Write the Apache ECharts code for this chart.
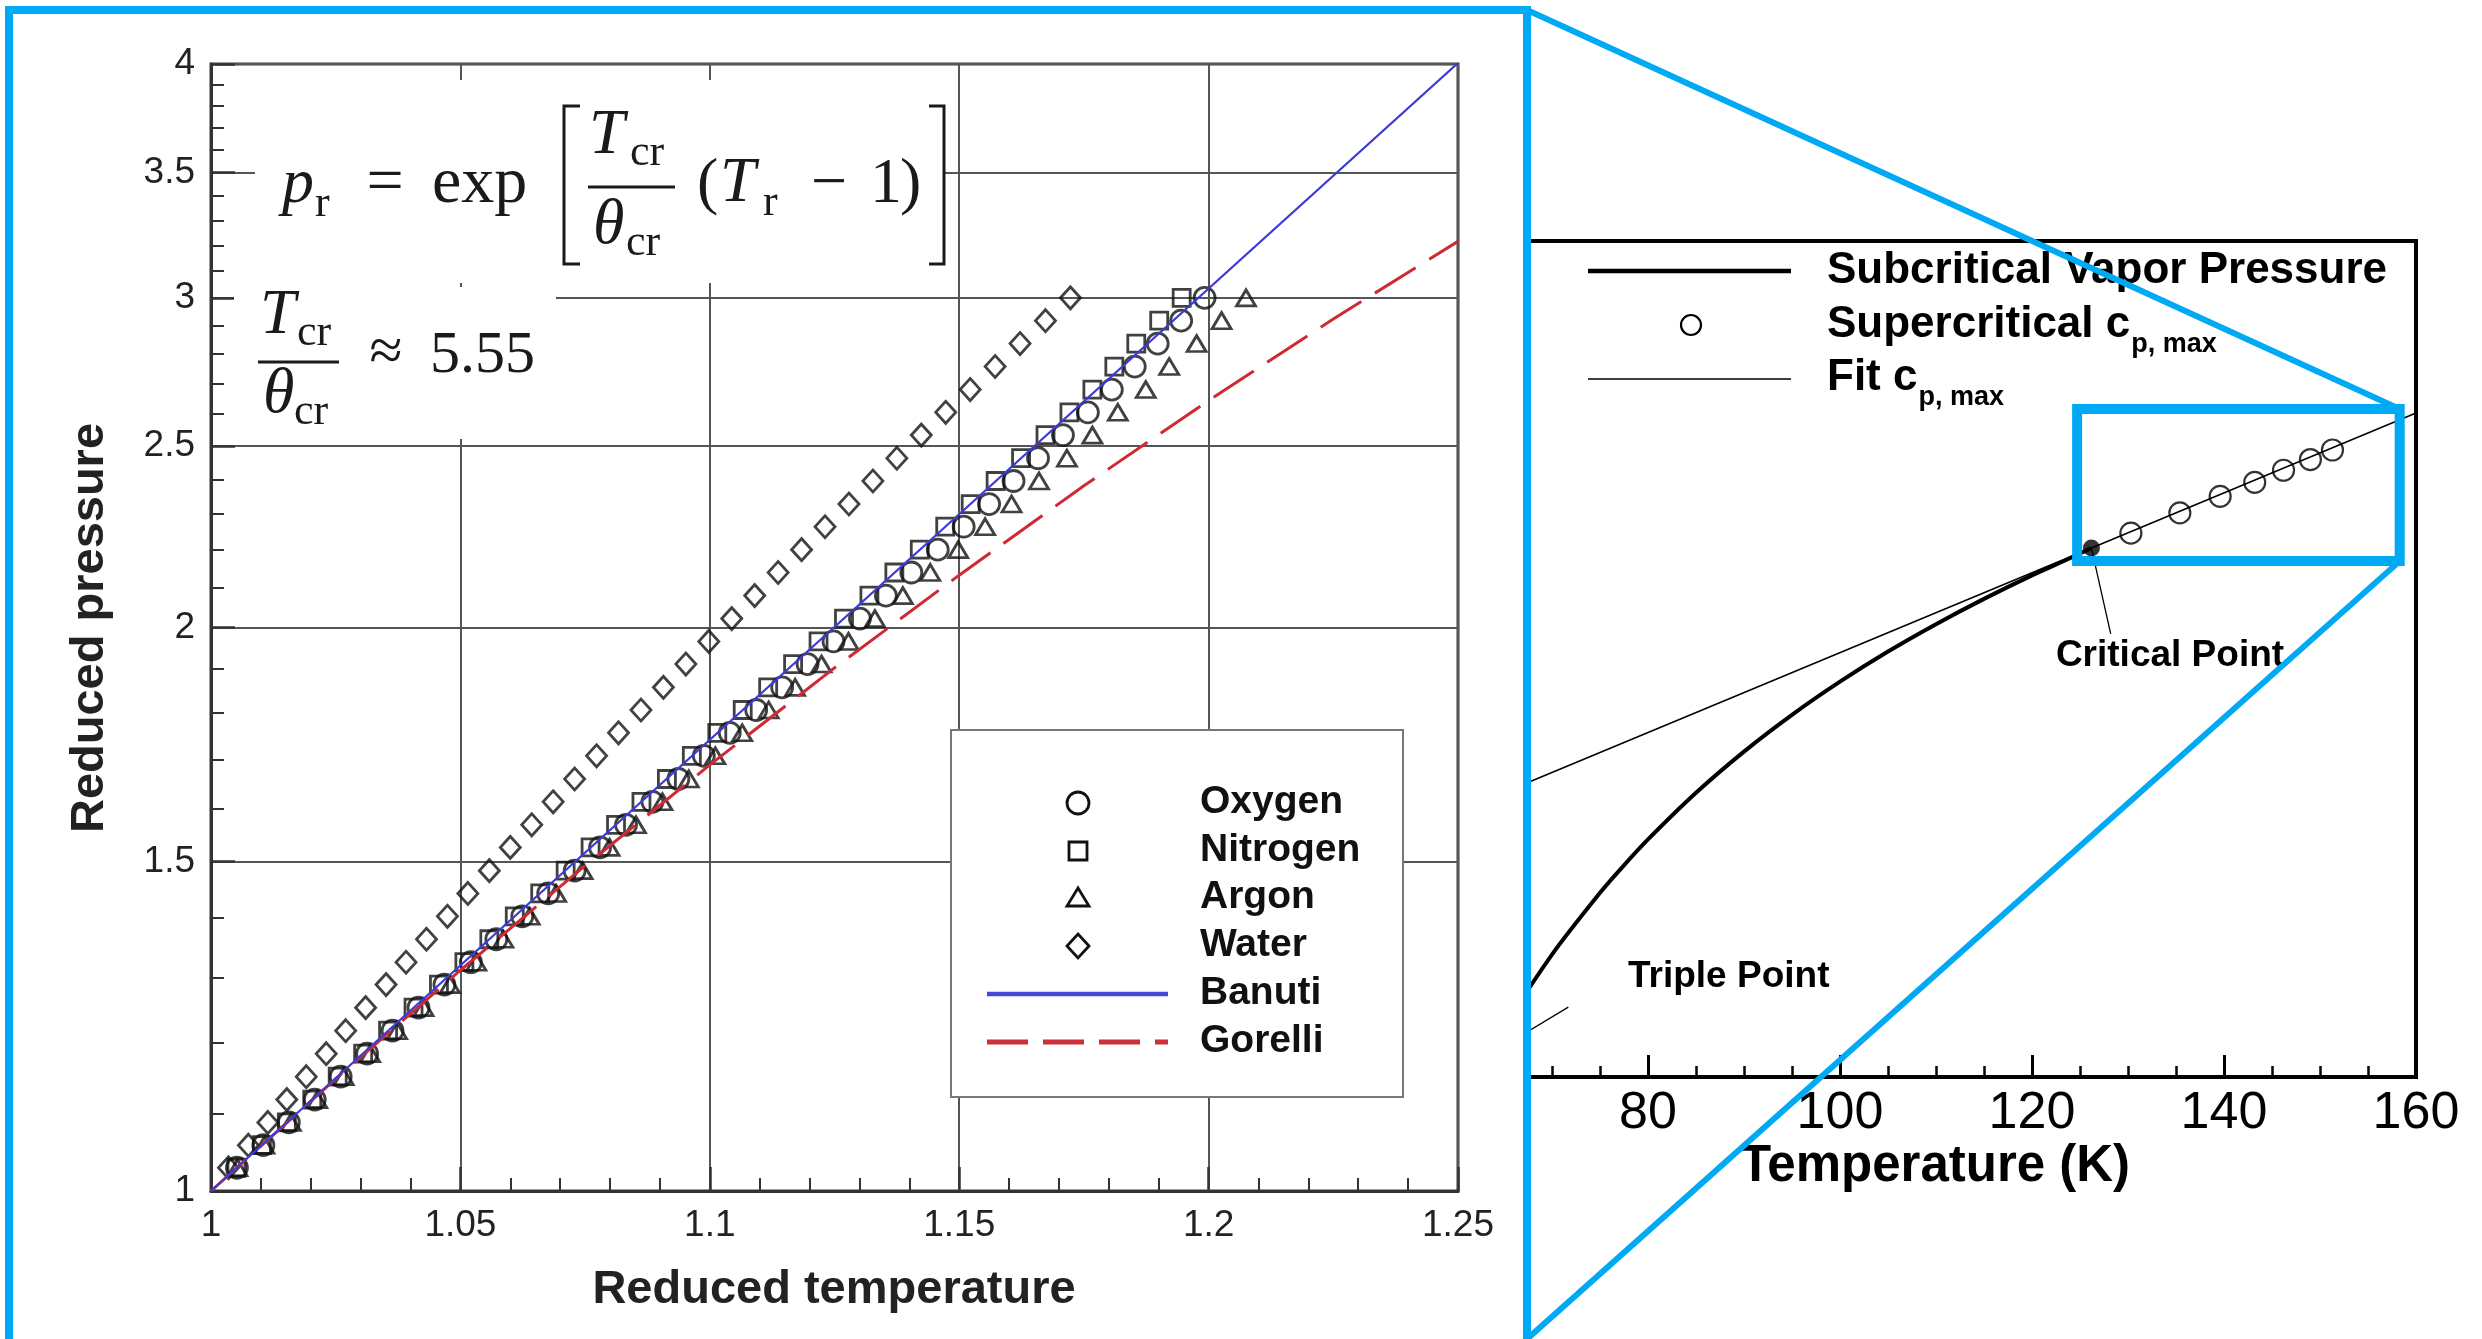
<!DOCTYPE html>
<html>
<head>
<meta charset="utf-8">
<script src="https://cdn.jsdelivr.net/npm/echarts@6/dist/echarts.min.js"></script>
<style>
  html, body { margin: 0; padding: 0; background: #ffffff; }
  #main { width: 2482px; height: 1339px; }
</style>
</head>
<body>
<div id="main"></div>
<script>
// ---------------- Left panel: reduced Widom-line data ----------------
// Reduced pressure levels shared by all four fluids
const pReduced = [1.029, 1.058, 1.088, 1.119, 1.151, 1.184, 1.218, 1.253, 1.289, 1.325,
                  1.363, 1.402, 1.442, 1.483, 1.526, 1.569, 1.614, 1.660, 1.708, 1.757,
                  1.807, 1.858, 1.912, 1.966, 2.022, 2.080, 2.140, 2.201, 2.264, 2.328,
                  2.395, 2.463, 2.534, 2.606, 2.680, 2.757, 2.836, 2.917, 3.000];
// Reduced temperature of the Widom line at each pressure level
const tOxygen   = [1.0052, 1.0105, 1.0156, 1.0208, 1.0260, 1.0313, 1.0364, 1.0416, 1.0468, 1.0521,
                   1.0572, 1.0624, 1.0676, 1.0729, 1.0780, 1.0832, 1.0885, 1.0937, 1.0988, 1.1040,
                   1.1093, 1.1145, 1.1196, 1.1248, 1.1301, 1.1353, 1.1404, 1.1457, 1.1509, 1.1560,
                   1.1609, 1.1658, 1.1708, 1.1758, 1.1806, 1.1852, 1.1898, 1.1945, 1.1992];
const tNitrogen = [1.0051, 1.0102, 1.0152, 1.0203, 1.0254, 1.0305, 1.0355, 1.0406, 1.0457, 1.0508,
                   1.0558, 1.0609, 1.0660, 1.0711, 1.0761, 1.0812, 1.0863, 1.0914, 1.0964, 1.1015,
                   1.1066, 1.1117, 1.1167, 1.1218, 1.1269, 1.1320, 1.1370, 1.1421, 1.1472, 1.1523,
                   1.1573, 1.1624, 1.1673, 1.1721, 1.1767, 1.1811, 1.1855, 1.1901, 1.1946];
const tArgon    = [1.0053, 1.0107, 1.0160, 1.0213, 1.0266, 1.0319, 1.0373, 1.0426, 1.0479, 1.0532,
                   1.0586, 1.0639, 1.0692, 1.0745, 1.0799, 1.0852, 1.0905, 1.0958, 1.1011, 1.1065,
                   1.1118, 1.1171, 1.1224, 1.1278, 1.1331, 1.1387, 1.1442, 1.1498, 1.1552, 1.1605,
                   1.1660, 1.1716, 1.1767, 1.1818, 1.1874, 1.1921, 1.1976, 1.2026, 1.2075];
const tWater    = [1.0035, 1.0075, 1.0114, 1.0152, 1.0191, 1.0231, 1.0270, 1.0310, 1.0351, 1.0391,
                   1.0432, 1.0474, 1.0515, 1.0558, 1.0600, 1.0643, 1.0686, 1.0729, 1.0773, 1.0817,
                   1.0862, 1.0907, 1.0952, 1.0998, 1.1044, 1.1090, 1.1137, 1.1184, 1.1231, 1.1279,
                   1.1327, 1.1375, 1.1424, 1.1473, 1.1522, 1.1572, 1.1622, 1.1673, 1.1723];
// Banuti correlation p_r = exp[5.55 (T_r - 1)]
const banutiT = [1.0, 1.25];
const banutiP = [1.0, 4.005];
// Gorelli line
const gorelliT = [1.0, 1.025, 1.05, 1.075, 1.1, 1.125, 1.15, 1.175, 1.2, 1.225, 1.25];
const gorelliP = [1.0, 1.148, 1.312, 1.492, 1.689, 1.903, 2.133, 2.381, 2.644, 2.923, 3.216];
// Axis ticks
const yTicksLeft  = [1, 1.5, 2, 2.5, 3, 3.5, 4];
const yMinorLeft  = [1.1, 1.2, 1.3, 1.4, 1.6, 1.7, 1.8, 1.9, 2.1, 2.2, 2.3, 2.4,
                     2.6, 2.7, 2.8, 2.9, 3.1, 3.2, 3.3, 3.4, 3.6, 3.7, 3.8, 3.9];

// ---------------- Right panel: nitrogen, T in K, p in MPa ----------------
const vaporT = [63.15, 65, 70, 75, 77.35, 80, 85, 90, 95, 100, 105, 110, 115, 120, 124, 126.19];
const vaporP = [0.01252, 0.01741, 0.03854, 0.07609, 0.1013, 0.1370, 0.2290, 0.3605, 0.5405,
                0.7788, 1.0853, 1.4673, 1.9393, 2.5125, 3.0413, 3.3958];
const fitT = [63.15, 160];
const fitP = [0.212, 15.02];
const cpMaxT = [130.3, 135.4, 139.6, 143.2, 146.2, 149.0, 151.3];
const cpMaxP = [4, 5, 6, 7, 8, 9, 10];
const criticalPoint = [126.19, 3.396];
const triplePoint = [63.15, 0.01252];
const xTicksRight = [80, 100, 120, 140, 160];
const xMinorRight = [70, 75, 85, 90, 95, 105, 110, 115, 125, 130, 135, 145, 150, 155];

// ---------------- Chart ----------------
const SANS = '"Liberation Sans", Arial, Helvetica, sans-serif';
const SERIF = '"Liberation Serif", "Times New Roman", serif';
const zip = (xs, ys) => xs.map((x, i) => [x, ys[i]]);

const chart = echarts.init(document.getElementById('main'), null, { renderer: 'canvas' });

const hollow = { color: 'rgba(0,0,0,0)', borderColor: '#111', borderWidth: 2.8 };

const option = {
  animation: false,
  backgroundColor: '#ffffff',
  grid: [
    { left: 211, top: 64, width: 1247, height: 1127, show: true, borderColor: '#3a3a3a', borderWidth: 3 },
    { left: 1528, top: 241, width: 888, height: 836, show: true, borderColor: '#000', borderWidth: 4 }
  ],
  xAxis: [
    {
      type: 'value', gridIndex: 0, min: 1, max: 1.25, interval: 0.05, position: 'bottom',
      axisLine: { onZero: false, lineStyle: { color: '#333', width: 3 } },
      axisTick: { inside: true, length: 24, lineStyle: { color: '#333', width: 2.5 } },
      minorTick: { show: true, splitNumber: 5, length: 13, lineStyle: { color: '#333', width: 2 } },
      axisLabel: { fontSize: 37, fontFamily: SANS, color: '#222', margin: 16 },
      splitLine: { show: true, lineStyle: { color: '#555', width: 2 } }
    },
    {
      type: 'value', gridIndex: 1, min: 67.5, max: 160, position: 'bottom',
      axisLine: { onZero: false, lineStyle: { color: '#000', width: 4 } },
      axisTick: { inside: true, length: 22, customValues: xTicksRight, lineStyle: { color: '#000', width: 3 } },
      axisLabel: { customValues: xTicksRight, fontSize: 52, fontFamily: SANS, color: '#000', margin: 11 },
      splitLine: { show: false }
    },
    {
      type: 'value', gridIndex: 1, min: 67.5, max: 160, position: 'bottom',
      axisLine: { show: false, onZero: false },
      axisTick: { inside: true, length: 11, customValues: xMinorRight, lineStyle: { color: '#000', width: 2.5 } },
      axisLabel: { show: false },
      splitLine: { show: false }
    }
  ],
  yAxis: [
    {
      type: 'log', gridIndex: 0, min: 1, max: 4, position: 'left',
      axisLine: { show: true, onZero: false, lineStyle: { color: '#333', width: 3 } },
      axisTick: { show: true, inside: true, length: 24, customValues: yTicksLeft, lineStyle: { color: '#333', width: 2.5 } },
      axisLabel: {
        customValues: yTicksLeft, fontSize: 37, fontFamily: SANS, color: '#222', margin: 16,
        formatter: v => String(Math.round(v * 100) / 100)
      },
      splitLine: { show: true, lineStyle: { color: '#555', width: 2 } }
    },
    {
      type: 'log', gridIndex: 0, min: 1, max: 4, position: 'left',
      axisLine: { show: false, onZero: false },
      axisTick: { show: true, inside: true, length: 13, customValues: yMinorLeft, lineStyle: { color: '#333', width: 2 } },
      axisLabel: { show: false },
      splitLine: { show: false }
    },
    {
      type: 'log', gridIndex: 1, min: 0.01, max: 100, position: 'left', show: false
    }
  ],
  series: [
    { name: 'Oxygen', type: 'scatter', xAxisIndex: 0, yAxisIndex: 0, symbol: 'circle', symbolSize: 21,
      data: zip(tOxygen, pReduced), itemStyle: hollow, silent: true, z: 3 },
    { name: 'Nitrogen', type: 'scatter', xAxisIndex: 0, yAxisIndex: 0, symbol: 'rect', symbolSize: 17,
      data: zip(tNitrogen, pReduced), itemStyle: hollow, silent: true, z: 3 },
    { name: 'Argon', type: 'scatter', xAxisIndex: 0, yAxisIndex: 0, symbol: 'triangle', symbolSize: [19, 16],
      data: zip(tArgon, pReduced), itemStyle: hollow, silent: true, z: 3 },
    { name: 'Water', type: 'scatter', xAxisIndex: 0, yAxisIndex: 0, symbol: 'diamond', symbolSize: [20, 22],
      data: zip(tWater, pReduced), itemStyle: hollow, silent: true, z: 3 },
    { name: 'Gorelli', type: 'line', xAxisIndex: 0, yAxisIndex: 0, symbol: 'none', silent: true, z: 4,
      data: zip(gorelliT, gorelliP), lineStyle: { color: '#cf2a33', width: 3, type: [48, 16] } },
    { name: 'Banuti', type: 'line', xAxisIndex: 0, yAxisIndex: 0, symbol: 'none', silent: true, z: 4, clip: true,
      data: zip(banutiT, banutiP), lineStyle: { color: '#3b3bd6', width: 2.2 } },

    { name: 'Subcritical Vapor Pressure', type: 'line', xAxisIndex: 1, yAxisIndex: 2, symbol: 'none', silent: true,
      smooth: 0.3, clip: true, data: zip(vaporT, vaporP), lineStyle: { color: '#000', width: 4 } },
    { name: 'Fit', type: 'line', xAxisIndex: 1, yAxisIndex: 2, symbol: 'none', silent: true, clip: true,
      data: zip(fitT, fitP), lineStyle: { color: '#000', width: 1.6 } },
    { name: 'Supercritical cp,max', type: 'scatter', xAxisIndex: 1, yAxisIndex: 2, symbol: 'circle', symbolSize: 21,
      data: zip(cpMaxT, cpMaxP), silent: true, z: 4,
      itemStyle: { color: 'rgba(0,0,0,0)', borderColor: '#000', borderWidth: 2.2 } },
    { name: 'Critical Point', type: 'scatter', xAxisIndex: 1, yAxisIndex: 2, symbol: 'circle', symbolSize: 17,
      data: [criticalPoint], silent: true, z: 5, itemStyle: { color: '#000' } },
    // leader lines from the labels to the triple and critical points
    { name: 'triple leader', type: 'line', xAxisIndex: 1, yAxisIndex: 2, symbol: 'none', silent: true, clip: true,
      data: [triplePoint, [71.7, 0.0216]], lineStyle: { color: '#000', width: 1.3 } },
    { name: 'critical leader', type: 'line', xAxisIndex: 1, yAxisIndex: 2, symbol: 'none', silent: true, clip: true,
      data: [criticalPoint, [128.2, 1.32]], lineStyle: { color: '#000', width: 1.3 } }
  ]
};
chart.setOption(option);

// ---------------- Annotations ----------------
const measure = document.createElement('canvas').getContext('2d');
function widthOf(str, font) { measure.font = font; return measure.measureText(str).width; }

// text placed by its alphabetic baseline
function txt(str, x, baseline, size, o) {
  o = o || {};
  return {
    type: 'text', silent: true, z: o.z || 20,
    x: x, y: baseline - 0.34 * size, rotation: o.rotation || 0,
    style: {
      text: str, fontSize: size, fontFamily: o.family || SANS,
      fontWeight: o.weight || 'normal', fontStyle: o.italic ? 'italic' : 'normal',
      fill: o.fill || '#000', align: o.align || 'left', verticalAlign: 'middle'
    }
  };
}
function seg(points, width, color, o) {
  o = o || {};
  return { type: 'polyline', silent: true, z: o.z || 20, shape: { points: points },
           style: { stroke: color, lineWidth: width, fill: null, lineDash: o.dash || null } };
}

const els = [];

// formula panels (white backing)
els.push({ type: 'rect', silent: true, z: 10, shape: { x: 255, y: 80, width: 690, height: 203 }, style: { fill: '#fff' } });
els.push({ type: 'rect', silent: true, z: 10, shape: { x: 234, y: 287, width: 322, height: 152 }, style: { fill: '#fff' } });

const INK = '#1a1a1a';
const F = { family: SERIF, fill: INK };
const FC = { family: SERIF, fill: INK, align: 'center' };
const FI = { family: SERIF, fill: INK, italic: true };
// p_r = exp [ T_cr / theta_cr (T_r - 1) ]
els.push(txt('p', 282, 207, 64, FI));
els.push(txt('r', 315, 219, 44, F));
els.push(txt('=', 385, 207, 66, FC));
els.push(txt('exp', 432, 207, 66, F));
els.push(seg([[580, 106], [564, 106], [564, 264], [580, 264]], 3, INK));
els.push(txt('T', 589, 158, 64, FI));
els.push(txt('cr', 630, 168, 44, F));
els.push(seg([[588, 187], [675, 187]], 2.8, INK));
els.push(txt('\u03b8', 593, 248, 64, FI));
els.push(txt('cr', 626, 258, 44, F));
els.push(txt('(', 697, 207, 64, F));
els.push(txt('T', 720, 206, 64, FI));
els.push(txt('r', 763, 218, 44, F));
els.push(txt('\u2212', 829, 207, 64, FC));
els.push(txt('1', 870, 207, 64, F));
els.push(txt(')', 900, 207, 64, F));
els.push(seg([[929, 106], [944, 106], [944, 264], [929, 264]], 3, INK));
// T_cr / theta_cr ~ 5.55
els.push(txt('T', 260, 338, 64, FI));
els.push(txt('cr', 297, 348, 44, F));
els.push(seg([[258, 362], [339, 362]], 2.8, INK));
els.push(txt('\u03b8', 263, 417, 64, FI));
els.push(txt('cr', 294, 427, 44, F));
els.push(txt('\u2248', 386, 375, 60, FC));
els.push(txt('5.55', 430, 377, 60, F));

// left legend
els.push({ type: 'rect', silent: true, z: 10, shape: { x: 951, y: 730, width: 452, height: 367 },
           style: { fill: '#fff', stroke: '#777', lineWidth: 2 } });
const legRows = [803, 851, 898, 946, 994, 1042];
const legNames = ['Oxygen', 'Nitrogen', 'Argon', 'Water', 'Banuti', 'Gorelli'];
const symX = 1078;
const mk = { fill: 'none', stroke: '#111', lineWidth: 2.8 };
els.push({ type: 'circle', silent: true, z: 20, shape: { cx: symX, cy: legRows[0], r: 11 }, style: mk });
els.push({ type: 'rect', silent: true, z: 20, shape: { x: symX - 9, y: legRows[1] - 9, width: 18, height: 18 }, style: mk });
els.push({ type: 'polygon', silent: true, z: 20, shape: { points: [[symX, legRows[2] - 10], [symX + 11, legRows[2] + 8], [symX - 11, legRows[2] + 8]] }, style: mk });
els.push({ type: 'polygon', silent: true, z: 20, shape: { points: [[symX, legRows[3] - 12], [symX + 11, legRows[3]], [symX, legRows[3] + 12], [symX - 11, legRows[3]]] }, style: mk });
els.push(seg([[987, legRows[4]], [1168, legRows[4]]], 4.5, '#4848d8'));
els.push(seg([[987, legRows[5]], [1168, legRows[5]]], 5, '#c8313a', { dash: [41, 15] }));
legNames.forEach((n, i) => els.push(txt(n, 1200, legRows[i] + 13, 39, { weight: 'bold', fill: '#111' })));

// left axis titles
els.push({ type: 'text', silent: true, z: 20, x: 834, y: 1290,
           style: { text: 'Reduced temperature', fontSize: 47, fontWeight: 'bold', fontFamily: SANS, fill: '#222', align: 'center', verticalAlign: 'middle' } });
els.push({ type: 'text', silent: true, z: 20, x: 90, y: 628, rotation: Math.PI / 2,
           style: { text: 'Reduced pressure', fontSize: 47, fontWeight: 'bold', fontFamily: SANS, fill: '#222', align: 'center', verticalAlign: 'middle' } });

// right legend
const RB = 'bold 44px "Liberation Sans", Arial, sans-serif';
els.push(seg([[1588, 271], [1791, 271]], 4.5, '#000'));
els.push(txt('Subcritical Vapor Pressure', 1827, 286, 44, { weight: 'bold' }));
els.push({ type: 'circle', silent: true, z: 20, shape: { cx: 1691, cy: 325, r: 10 }, style: { fill: 'none', stroke: '#000', lineWidth: 2.2 } });
els.push(txt('Supercritical c', 1827, 340, 44, { weight: 'bold' }));
els.push(txt('p, max', 1827 + widthOf('Supercritical c', RB) + 1, 354, 27, { weight: 'bold' }));
els.push(seg([[1588, 379], [1791, 379]], 1.5, '#000'));
els.push(txt('Fit c', 1827, 393, 44, { weight: 'bold' }));
els.push(txt('p, max', 1827 + widthOf('Fit c', RB) + 1, 407, 27, { weight: 'bold' }));

// right panel labels
els.push(txt('Critical Point', 2170, 668, 37, { weight: 'bold', align: 'center' }));
els.push(txt('Triple Point', 1628, 989, 37, { weight: 'bold' }));
els.push({ type: 'text', silent: true, z: 20, x: 1935, y: 1167,
           style: { text: 'Temperature (K)', fontSize: 51, fontWeight: 'bold', fontFamily: SANS, fill: '#000', align: 'center', verticalAlign: 'middle' } });

// zoom window on the right panel, linked to the left panel frame
const BLUE = '#00a9f4';
const zoomWindow = { tMin: 124.7, tMax: 158.3, pMin: 2.94, pMax: 15.7 };
const fitSeries = { seriesIndex: 7 };
const tl = chart.convertToPixel(fitSeries, [zoomWindow.tMin, zoomWindow.pMax]);
const br = chart.convertToPixel(fitSeries, [zoomWindow.tMax, zoomWindow.pMin]);
els.push({ type: 'rect', silent: true, z: 100, shape: { x: tl[0], y: tl[1], width: br[0] - tl[0], height: br[1] - tl[1] },
           style: { fill: 'none', stroke: BLUE, lineWidth: 10 } });
els.push({ type: 'rect', silent: true, z: 100, shape: { x: 9, y: 10, width: 1518, height: 1350 },
           style: { fill: 'none', stroke: BLUE, lineWidth: 8 } });
els.push(seg([[1527, 10], [br[0], tl[1]]], 6, BLUE, { z: 100 }));
els.push(seg([[1527, 1339], [br[0], br[1]]], 6, BLUE, { z: 100 }));

chart.setOption({ graphic: { elements: els } });
</script>
</body>
</html>
